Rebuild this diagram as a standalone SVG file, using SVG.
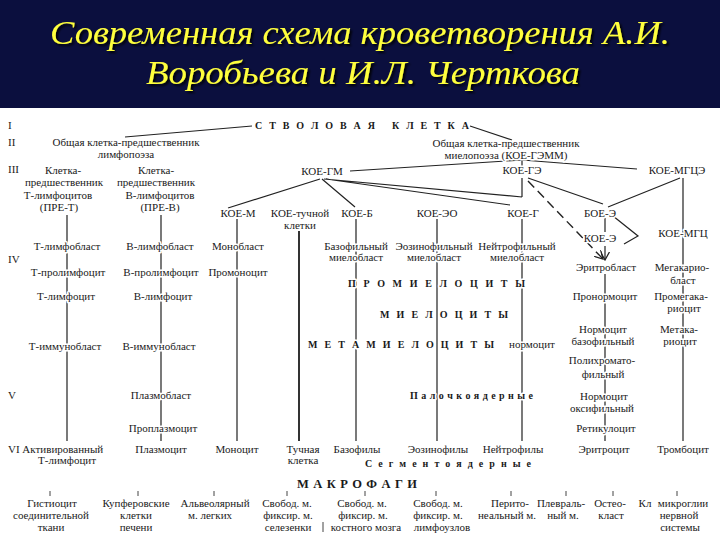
<svg xmlns="http://www.w3.org/2000/svg" width="720" height="540" viewBox="0 0 720 540">
<style>
.t{font-family:"Liberation Serif","DejaVu Serif",serif;font-size:11px;fill:#1a1a1a;text-anchor:middle;stroke:#fff;stroke-width:3px;paint-order:stroke;stroke-linejoin:round}
.l{text-anchor:start}
.b{font-weight:bold;font-size:10px}
.mk{font-size:12.5px}
.ttl{font-family:"Liberation Serif","DejaVu Serif",serif;font-style:italic;font-size:33px;fill:#ffff3c;text-anchor:middle}
.ln{stroke:#222;stroke-width:1.2;fill:none}
.th{stroke:#333;stroke-width:2;fill:none}
.ds{stroke:#222;stroke-width:1.4;fill:none;stroke-dasharray:9 5}
.tk{stroke:#444;stroke-width:1;fill:none}
</style>
<defs>
<marker id="ch" viewBox="0 0 10 10" refX="9" refY="5" markerWidth="9" markerHeight="9" markerUnits="userSpaceOnUse" orient="auto">
<path d="M0,0 L9,5 L0,10" fill="none" stroke="#222" stroke-width="1.4" stroke-dasharray="none"/>
</marker>
<filter id="sh" filterUnits="userSpaceOnUse" x="0" y="0" width="720" height="108">
<feDropShadow dx="2" dy="2" stdDeviation="0.8" flood-color="#000" flood-opacity="0.9"/>
</filter>
</defs>
<rect x="0" y="0" width="720" height="108" fill="#0b0f3e"/>
<rect x="0" y="108" width="720" height="432" fill="#ffffff"/>
<g id="title" filter="url(#sh)">
<text class="ttl" x="360" y="44" textLength="620" lengthAdjust="spacingAndGlyphs">Современная схема кроветворения А.И.</text>
<text class="ttl" x="363" y="84" textLength="434" lengthAdjust="spacingAndGlyphs">Воробьева и И.Л. Черткова</text>
</g>
<g id="connectors">
<path class="ln" d="M252,126 L125,137"/>
<path class="ln" d="M470,126 L512,140"/>
<path class="ln" d="M350,171 L522,160 L637,169 M522,160 V166"/>
<path class="ln" d="M320,179 L228,208 M322,179 L355,207 M324,179 L522,197 M326,179 L510,205 M522,178 V197"/>
<path class="ln" d="M528,178 L603,204 M680,178 L608,207"/>
<path class="ds" d="M528,181 L603,259" marker-end="url(#ch)"/>
<path class="ln" d="M605,218 V232 M605,246 V260" marker-end="url(#ch)"/>
<path class="ln" d="M613,216 L638,236 L624,244"/>
<path class="ln" d="M67,215 V441 M161,215 V441 M237,219 V441 M356,219 V441 M437,219 V441 M522,219 V441 M605,274 V441 M683,178 V441"/>
<path class="th" d="M299,231 V441"/>
<path class="tk" d="M50,491 V496 M138,491 V496 M214,491 V496 M287,491 V496 M365,491 V496 M436,491 V496 M511,491 V496 M566,491 V496 M613,491 V496 M677,491 V496 M323,522 V532"/>
</g>
<g id="levels">
<text class="t l" x="8" y="129">I</text>
<text class="t l" x="8" y="146">II</text>
<text class="t l" x="8" y="173">III</text>
<text class="t l" x="8" y="263">IV</text>
<text class="t l" x="8" y="399">V</text>
</g>
<g id="n-stem"><text class="t l b" x="255" y="129" textLength="120" lengthAdjust="spacing">С Т В О Л О В А Я</text><text class="t l b" x="392" y="129" textLength="77" lengthAdjust="spacing">К Л Е Т К А</text></g>
<g id="n-lymph"><text class="t" x="126" y="146">Общая клетка-предшественник</text><text class="t" x="126" y="158">лимфопоэза</text></g>
<g id="n-myelo"><text class="t" x="506" y="147">Общая клетка-предшественник</text><text class="t" x="506" y="159">миелопоэза (КОЕ-ГЭММ)</text></g>
<g id="n-pret"><text class="t" x="63" y="174">Клетка-</text><text class="t" x="64" y="186">предшественник</text><text class="t" x="58" y="199">Т-лимфоцитов</text><text class="t" x="59" y="211">(ПРЕ-Т)</text></g>
<g id="n-preb"><text class="t" x="156" y="174">Клетка-</text><text class="t" x="156" y="186">предшественник</text><text class="t" x="160" y="199">В-лимфоцитов</text><text class="t" x="160" y="211">(ПРЕ-В)</text></g>
<g id="n-koe-gm"><text class="t" x="322" y="175">КОЕ-ГМ</text></g>
<g id="n-koe-ge"><text class="t" x="522" y="174">КОЕ-ГЭ</text></g>
<g id="n-koe-mgce"><text class="t" x="677" y="174">КОЕ-МГЦЭ</text></g>
<g id="n-koe-m"><text class="t" x="238" y="217">КОЕ-М</text></g>
<g id="n-koe-t"><text class="t" x="300" y="217">КОЕ-тучной</text><text class="t" x="300" y="229">клетки</text></g>
<g id="n-koe-b"><text class="t" x="357" y="217">КОЕ-Б</text></g>
<g id="n-koe-eo"><text class="t" x="437" y="217">КОЕ-ЭО</text></g>
<g id="n-koe-g"><text class="t" x="523" y="217">КОЕ-Г</text></g>
<g id="n-boe-e"><text class="t" x="600" y="217">БОЕ-Э</text></g>
<g id="n-koe-e"><text class="t" x="600" y="242">КОЕ-Э</text></g>
<g id="n-koe-mgc"><text class="t" x="683" y="237">КОЕ-МГЦ</text></g>
<g id="n-tlb"><text class="t" x="67" y="250">Т-лимфобласт</text></g>
<g id="n-blb"><text class="t" x="160" y="250">В-лимфобласт</text></g>
<g id="n-monob"><text class="t" x="238" y="250">Монобласт</text></g>
<g id="n-bazmb"><text class="t" x="356" y="250">Базофильный</text><text class="t" x="356" y="261">миелобласт</text></g>
<g id="n-eozmb"><text class="t" x="434" y="250">Эозинофильный</text><text class="t" x="434" y="261">миелобласт</text></g>
<g id="n-neimb"><text class="t" x="517" y="250">Нейтрофильный</text><text class="t" x="517" y="261">миелобласт</text></g>
<g id="n-eritb"><text class="t" x="606" y="271">Эритробласт</text></g>
<g id="n-megab"><text class="t" x="682" y="271">Мегакарио-</text><text class="t" x="683" y="284">бласт</text></g>
<g id="n-tplc"><text class="t" x="68" y="276">Т-пролимфоцит</text></g>
<g id="n-bplc"><text class="t" x="161" y="276">В-пролимфоцит</text></g>
<g id="n-promon"><text class="t" x="238" y="276">Промоноцит</text></g>
<g id="n-tlc"><text class="t" x="66" y="300">Т-лимфоцит</text></g>
<g id="n-blc"><text class="t" x="163" y="300">В-лимфоцит</text></g>
<g id="n-promiel"><text class="t l b" x="348" y="287" textLength="177" lengthAdjust="spacing">П Р О М И Е Л О Ц И Т Ы</text></g>
<g id="n-pronorm"><text class="t" x="605" y="300">Пронормоцит</text></g>
<g id="n-promega"><text class="t" x="681" y="300">Промегака-</text><text class="t" x="684" y="312">риоцит</text></g>
<g id="n-miel"><text class="t l b" x="380" y="318" textLength="128" lengthAdjust="spacing">М И Е Л О Ц И Т Ы</text></g>
<g id="n-normbaz"><text class="t" x="603" y="333">Нормоцит</text><text class="t" x="603" y="345">базофильный</text></g>
<g id="n-metaka"><text class="t" x="679" y="333">Метака-</text><text class="t" x="680" y="345">риоцит</text></g>
<g id="n-timb"><text class="t" x="65" y="350">Т-иммунобласт</text></g>
<g id="n-bimb"><text class="t" x="159" y="350">В-иммунобласт</text></g>
<g id="n-metamiel"><text class="t l b" x="308" y="348" textLength="186" lengthAdjust="spacing">М Е Т А М И Е Л О Ц И Т Ы</text></g>
<g id="n-normoc"><text class="t" x="532" y="348">нормоцит</text></g>
<g id="n-polichr"><text class="t" x="602" y="364">Полихромато-</text><text class="t" x="603" y="378">фильный</text></g>
<g id="n-plazmob"><text class="t" x="161" y="399">Плазмобласт</text></g>
<g id="n-paloch"><text class="t l b" x="410" y="399" textLength="123" lengthAdjust="spacing">П а л о ч к о я д е р н ы е</text></g>
<g id="n-normoks"><text class="t" x="604" y="400">Нормоцит</text><text class="t" x="602" y="412">оксифильный</text></g>
<g id="n-proplaz"><text class="t" x="163" y="432">Проплазмоцит</text></g>
<g id="n-retik"><text class="t" x="606" y="432">Ретикулоцит</text></g>
<g id="n-aktiv"><text class="t l" x="8" y="453">VI Активированный</text><text class="t" x="67" y="464">Т-лимфоцит</text></g>
<g id="n-plazm"><text class="t" x="161" y="453">Плазмоцит</text></g>
<g id="n-monoc"><text class="t" x="237" y="453">Моноцит</text></g>
<g id="n-tuch"><text class="t" x="303" y="453">Тучная</text><text class="t" x="303" y="464">клетка</text></g>
<g id="n-bazof"><text class="t" x="357" y="453">Базофилы</text></g>
<g id="n-eozin"><text class="t" x="438" y="453">Эозинофилы</text></g>
<g id="n-neitr"><text class="t" x="513" y="453">Нейтрофилы</text></g>
<g id="n-segm"><text class="t l b" x="365" y="467" textLength="166" lengthAdjust="spacing">С е г м е н т о я д е р н ы е</text></g>
<g id="n-eritr"><text class="t" x="604" y="453">Эритроцит</text></g>
<g id="n-tromb"><text class="t" x="683" y="453">Тромбоцит</text></g>
<g id="n-makro"><text class="t l b mk" x="297" y="488" textLength="120" lengthAdjust="spacing">М А К Р О Ф А Г И</text></g>
<g id="m-gist"><text class="t" x="52" y="507">Гистиоцит</text><text class="t" x="51" y="519">соединительной</text><text class="t" x="51" y="531">ткани</text></g>
<g id="m-kupf"><text class="t" x="136" y="507">Купферовские</text><text class="t" x="136" y="519">клетки</text><text class="t" x="136" y="531">печени</text></g>
<g id="m-alv"><text class="t" x="215" y="507">Альвеолярный</text><text class="t" x="210" y="519">м. легких</text></g>
<g id="m-sel"><text class="t" x="287" y="507">Свобод. м.</text><text class="t" x="288" y="519">фиксир. м.</text><text class="t" x="288" y="531">селезенки</text></g>
<g id="m-kost"><text class="t" x="362" y="507">Свобод. м.</text><text class="t" x="363" y="519">фиксир. м.</text><text class="t" x="366" y="531">костного мозга</text></g>
<g id="m-limf"><text class="t" x="438" y="507">Свобод. м.</text><text class="t" x="438" y="519">фиксир. м.</text><text class="t" x="442" y="531">лимфоузлов</text></g>
<g id="m-perit"><text class="t" x="510" y="507">Перито-</text><text class="t" x="507" y="519">неальный м.</text></g>
<g id="m-plevr"><text class="t" x="561" y="507">Плевраль-</text><text class="t" x="563" y="519">ный м.</text></g>
<g id="m-osteo"><text class="t" x="610" y="507">Остео-</text><text class="t" x="611" y="519">класт</text></g>
<g id="m-kl"><text class="t" x="645" y="507">Кл</text></g>
<g id="m-mikro"><text class="t" x="683" y="507">микроглии</text><text class="t" x="679" y="519">нервной</text><text class="t" x="680" y="531">системы</text></g>
</svg>
